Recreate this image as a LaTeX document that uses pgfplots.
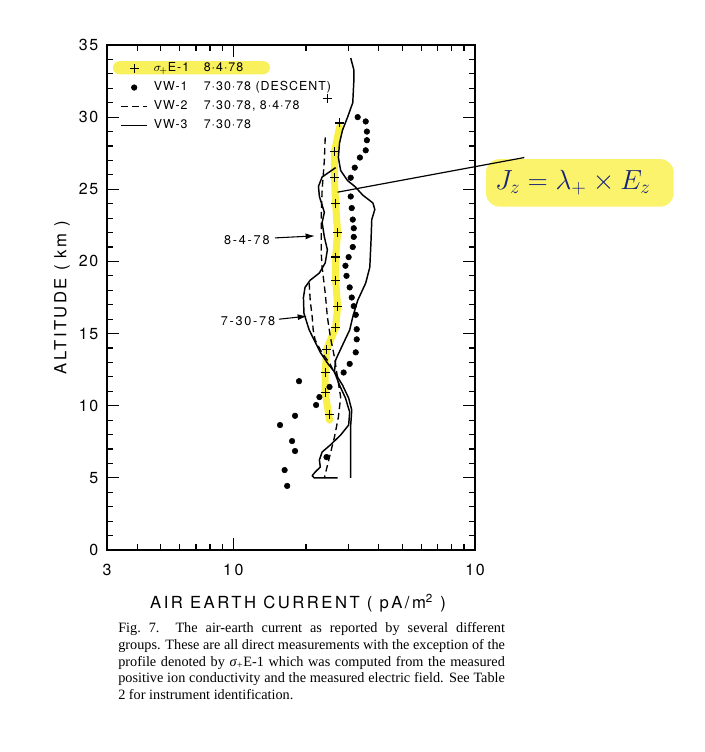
\documentclass[border=0pt]{standalone}
\usepackage{fontspec}
\setmainfont{Liberation Serif}
\newfontfamily\heros{TeX Gyre Heros}
\newfontfamily\herossp[LetterSpace=15]{TeX Gyre Heros}
\newfontfamily\herostick[LetterSpace=10]{TeX Gyre Heros}
\newfontfamily\herosleg[LetterSpace=8]{TeX Gyre Heros}
\newfontfamily\herosann[LetterSpace=14]{TeX Gyre Heros}
\usepackage{pgfplots}
\pgfplotsset{compat=1.18}
\usetikzlibrary{calc,arrows.meta}
\definecolor{hl}{RGB}{248,238,50}
\definecolor{ink}{RGB}{25,35,120}
\pgfplotsset{midmark/.style={legend image code/.code={\draw[mark repeat=2,mark phase=2,##1] plot coordinates {(0pt,0pt) (9.75pt,0pt) (19.5pt,0pt)};}}}
\begin{document}
\begin{tikzpicture}
\begin{axis}[
  name=ax, at={(0,0)}, anchor=south west,
  scale only axis, width=276pt, height=378.75pt,
  xmode=log, xmin=0.3, xmax=10, ymin=0, ymax=35,
  clip=false,
  xtick={0.3,1,10}, xticklabels={3,1\,0,10},
  minor xtick={0.4,0.5,0.6,0.7,0.8,0.9,2,3,4,5,6,7,8,9},
  ytick={0,5,...,35}, minor y tick num=4,
  tick pos=both, tick align=inside,
  major tick length=9pt, minor tick length=4.5pt,
  tick style={black, line width=0.9pt},
  axis line style={line width=1.4pt},
  /pgf/number format/assume math mode=true,
  tick label style={font=\herostick\fontsize{12}{14}\selectfont},
  yticklabel style={xshift=-3pt},
  xticklabel style={yshift=-7pt},
  xlabel={AIR EARTH CURRENT ( pA/m\textsuperscript{2} )},
  ylabel={ALTITUDE ( km )},
  label style={font=\herossp\fontsize{12.5}{14}\selectfont},
  xlabel style={at={(axis description cs:0.519,-0.105)}, anchor=center},
  ylabel style={at={(axis description cs:-0.122,0.5)}, anchor=center},
  legend style={at={(rel axis cs:0.025,0.978)}, anchor=north west, draw=none, fill=none,
    font=\herosleg\fontsize{9.3}{11}\selectfont,
    nodes={inner sep=1.4pt, text height=8pt, text depth=3.45pt}},
  legend cell align=left,
  midmark,
]
% highlight behind first legend entry
\fill[hl, opacity=0.8, rounded corners=5pt] (rel axis cs:0.016,0.942) rectangle (rel axis cs:0.443,0.968);

% yellow band along sigma+E-1 profile
\addplot[hl, line width=5.25pt, opacity=0.9, forget plot, line join=round, line cap=round] coordinates {
(2.75,29.3) (2.62,27.6) (2.62,25.8) (2.65,24.0) (2.70,22.0) (2.65,20.3) (2.65,18.7)
(2.70,16.9) (2.65,15.4) (2.43,13.9) (2.40,12.3) (2.40,10.9) (2.50,9.0)};

% sigma+E-1
\addplot[only marks, mark=+, mark size=3.4pt, line width=0.9pt, black, midmark] coordinates {
(2.45,31.3) (2.75,29.6) (2.62,27.6) (2.62,25.8) (2.65,24.0) (2.70,22.0) (2.65,20.3)
(2.65,18.7) (2.70,16.9) (2.65,15.4) (2.43,13.9) (2.40,12.3) (2.40,10.9) (2.50,9.4)};
\addlegendentry{\hspace{3pt}\makebox[37.5pt][l]{$\sigma_{\!+}$E-1}8·4·78}

% VW-1 descent
\addplot[only marks, mark=*, mark size=2.1pt, black, midmark] coordinates {
(3.27,30.0) (3.53,29.7) (3.57,29.0) (3.57,28.4) (3.53,27.7) (3.34,27.2) (3.18,26.5)
(3.06,25.8) (3.06,24.5) (3.09,23.7) (3.12,22.9) (3.15,22.3) (3.15,21.7) (3.12,21.0)
(3.00,20.3) (2.91,19.7) (2.94,19.0) (3.03,18.2) (3.09,17.5) (3.15,16.9) (3.21,16.3)
(3.24,15.3) (3.24,14.6) (3.21,13.7) (3.03,12.9) (2.86,12.3) (2.50,11.3) (2.27,10.6)
(2.20,10.05) (1.87,11.7) (1.80,9.3) (1.56,8.66) (1.75,7.55) (1.80,6.86) (2.43,6.44)
(1.63,5.54) (1.67,4.44)};
\addlegendentry{\hspace{3pt}\makebox[37.5pt][l]{VW-1}7·30·78 (DESCENT)}

% VW-2 8-4-78
\addplot[black, mark=none, line width=1pt, dash pattern=on 5pt off 3pt] coordinates {
(2.40,28.6) (2.38,27.0) (2.33,24.95) (2.31,23.1) (2.31,22.0) (2.31,20.6) (2.33,19.6)
(2.40,17.8) (2.45,16.15) (2.52,14.76) (2.62,13.37) (2.70,11.92) (2.78,10.6) (2.72,9.2)
(2.62,7.83) (2.50,6.44) (2.38,5.0)};
\addlegendentry{\hspace{3pt}\makebox[37.5pt][l]{VW-2}7·30·78, 8·4·78}
% VW-2 7-30-78
\addplot[black, mark=none, line width=1pt, dash pattern=on 5pt off 3pt, forget plot] coordinates {
(2.06,18.5) (2.08,17.3) (2.12,16.15) (2.14,15.25) (2.18,14.55) (2.33,13.65) (2.50,12.96) (2.62,12.3)};

% VW-3 (long profile)
\addplot[black, mark=none, line width=1.1pt, line join=round] coordinates {
(3.06,34.1) (3.15,33.3) (3.15,32.4) (3.12,31.0) (2.97,30.0) (2.83,29.1) (2.75,28.2)
(2.72,27.2) (2.78,26.3) (2.97,25.6) (3.18,25.2) (3.43,24.6) (3.78,24.05) (3.85,23.6)
(3.74,22.9) (3.71,21.3) (3.67,19.6) (3.53,18.5) (3.27,17.3) (3.12,16.15) (3.03,15.25)
(2.83,14.2) (2.65,13.17) (2.62,12.34) (2.75,11.43) (2.91,10.53) (3.03,9.56) (3.00,8.66)
(2.78,7.97) (2.52,7.28) (2.33,6.79) (2.27,6.24) (2.29,5.75) (2.18,5.4) (2.12,5.15)
(2.16,5.0) (2.70,5.0)};
\addlegendentry{\hspace{3pt}\makebox[37.5pt][l]{VW-3}7·30·78}
% VW-3 second profile
\addplot[black, mark=none, line width=1.1pt, line join=round, forget plot] coordinates {
(2.65,26.5) (2.33,25.85) (2.25,25.2) (2.27,24.5) (2.33,23.9) (2.38,23.4) (2.33,22.7)
(2.38,21.7) (2.45,20.8) (2.40,19.9) (2.27,19.2) (2.08,18.7) (1.98,18.2) (1.95,17.5)
(1.96,16.4) (2.06,15.25) (2.16,14.55) (2.29,13.7) (2.45,12.96) (2.62,12.34) (2.83,11.43)
(3.00,10.53) (3.09,9.7) (3.06,8.66) (3.06,5.0)};

% date annotations
\node[font=\herosann\fontsize{9.5}{11}\selectfont] at (rel axis cs:0.380,0.614) {8-4-78};
\draw[line width=0.8pt, -{Latex[length=7pt,width=4.5pt]}] (rel axis cs:0.4565,0.618) -- (rel axis cs:0.565,0.622);
\node[font=\herosann\fontsize{9.5}{11}\selectfont] at (rel axis cs:0.383,0.4535) {7-30-78};
\draw[line width=0.8pt, -{Latex[length=7pt,width=4.5pt]}] (rel axis cs:0.467,0.457) -- (rel axis cs:0.5435,0.463);

% handwritten annotation
\fill[hl, opacity=0.72, rounded corners=10pt] (rel axis cs:1.03,0.680) rectangle (rel axis cs:1.54,0.774);
\draw[line width=0.9pt] (axis cs:2.70,24.8) -- (axis cs:16.0,27.2);
\node[text=ink, font=\fontsize{20}{24}\selectfont] at (rel axis cs:1.266,0.727) {$J_z=\lambda_{+}\times E_z$};
\end{axis}
\node[anchor=north west, text width=290pt, align=justify, inner sep=0pt,
      font=\fontsize{10.7}{12.4}\selectfont] at ($(ax.south west)+(8.25pt,-54.5pt)$)
 {Fig.~7.\ \ The air-earth current as reported by several different\linebreak
 groups. These are all direct measurements with the exception of the\linebreak
 profile denoted by \textit{σ}\textsubscript{+}E-1 which was computed from the measured\linebreak
 positive ion conductivity and the measured electric field. See Table\linebreak
 2 for instrument identification.\par};
\pgfresetboundingbox
\path[use as bounding box] ($(ax.south west)+(-80.25pt,-151.5pt)$) rectangle ($(ax.south west)+(447.75pt,412.5pt)$);
\end{tikzpicture}
\end{document}
